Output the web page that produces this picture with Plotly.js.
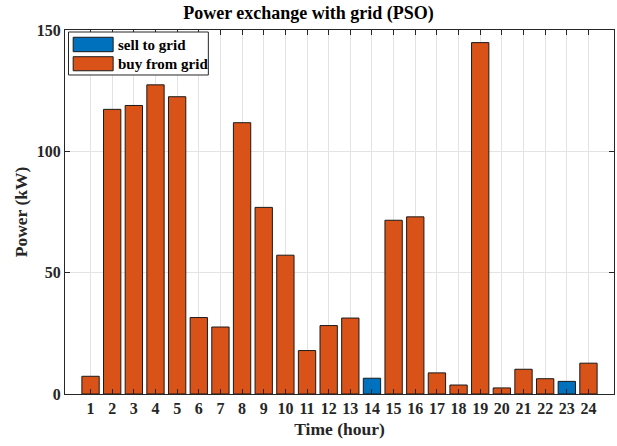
<!DOCTYPE html>
<html><head><meta charset="utf-8">
<script src="https://cdn.plot.ly/plotly-3.0.1.min.js"></script>
<style>html,body{margin:0;padding:0;background:#fff}#chart{width:617px;height:446px}</style>
</head><body><div id="chart"></div>
<script>
const hours = [1,2,3,4,5,6,7,8,9,10,11,12,13,14,15,16,17,18,19,20,21,22,23,24];
const tickLabels = hours.map(String);
const buyFromGrid = [7.3,117.3,118.9,127.4,122.5,31.5,27.6,111.8,76.9,57.2,17.9,28.2,31.3,null,71.6,73.0,8.7,3.7,144.8,2.5,10.2,6.3,null,12.7];
const sellToGrid = [null,null,null,null,null,null,null,null,null,null,null,null,null,6.5,null,null,null,null,null,null,null,null,5.2,null];
const seriesNames = ['sell to grid','buy from grid'];
const seriesColors = ['#0072BD','#D95319'];

const fam = '"Liberation Serif", "Times New Roman", serif';
const traces = [
  {type:'bar', name:seriesNames[0], x:hours, y:sellToGrid, width:0.8, showlegend:false,
   marker:{color:seriesColors[0], line:{color:'#1a1a1a', width:1}}},
  {type:'bar', name:seriesNames[1], x:hours, y:buyFromGrid, width:0.8, showlegend:false,
   marker:{color:seriesColors[1], line:{color:'#1a1a1a', width:1}}}
];
// custom legend (paper coords)
const shapes = [
  {type:'rect', xref:'paper', yref:'paper', x0:0.0064, x1:0.2611, y0:0.8764, y1:0.9945,
   line:{color:'#262626', width:1}, fillcolor:'#fff', layer:'above'},
  {type:'rect', xref:'paper', yref:'paper', x0:0.0149, x1:0.0877, y0:0.9404, y1:0.980,
   line:{color:'#1a1a1a', width:1}, fillcolor:seriesColors[0], layer:'above'},
  {type:'rect', xref:'paper', yref:'paper', x0:0.0149, x1:0.0877, y0:0.888, y1:0.9266,
   line:{color:'#1a1a1a', width:1}, fillcolor:seriesColors[1], layer:'above'}
];
const annotations = [
  {xref:'paper', yref:'paper', x:0.0937, y:0.960, xanchor:'left', yanchor:'middle', showarrow:false,
   text:'<b>'+seriesNames[0]+'</b>', font:{family:fam, size:15, color:'#000'}},
  {xref:'paper', yref:'paper', x:0.0937, y:0.9074, xanchor:'left', yanchor:'middle', showarrow:false,
   text:'<b>'+seriesNames[1]+'</b>', font:{family:fam, size:15, color:'#000'}}
];
const layout = {
  width:617, height:446,
  margin:{l:64.5, r:3, t:30, b:52},
  paper_bgcolor:'#fff', plot_bgcolor:'#fff',
  barmode:'overlay',
  font:{family:fam, color:'#262626'},
  title:{text:'<b>Power exchange with grid (PSO)</b>', x:0.5, xanchor:'center', y:0.985, yanchor:'top',
         font:{family:fam, size:18, color:'#000'}},
  xaxis:{range:[-0.18,25.18], tickvals:hours, ticktext:tickLabels.map(t=>'<b>'+t+'</b>'),
         ticks:'inside', ticklen:5, tickcolor:'#262626', mirror:'ticks',
         showline:true, linecolor:'#262626', linewidth:1,
         showgrid:true, gridcolor:'#e3e3e3', gridwidth:1, zeroline:false,
         tickfont:{family:fam, size:16, color:'#262626'},
         title:{text:'<b>Time (hour)</b>', font:{family:fam, size:17.5, color:'#262626'}, standoff:6}},
  yaxis:{range:[0,150], tickvals:[0,50,100,150], ticktext:['<b>0</b>','<b>50</b>','<b>100</b>','<b>150</b>'],
         ticks:'inside', ticklen:5, tickcolor:'#262626', mirror:'ticks',
         showline:true, linecolor:'#262626', linewidth:1,
         showgrid:true, gridcolor:'#e3e3e3', gridwidth:1, zeroline:false,
         tickfont:{family:fam, size:16, color:'#262626'},
         title:{text:'<b>Power (kW)</b>', font:{family:fam, size:17.5, color:'#262626'}, standoff:4}},
  shapes:shapes, annotations:annotations,
  showlegend:false
};
Plotly.newPlot('chart', traces, layout, {displayModeBar:false, staticPlot:true});
</script></body></html>
